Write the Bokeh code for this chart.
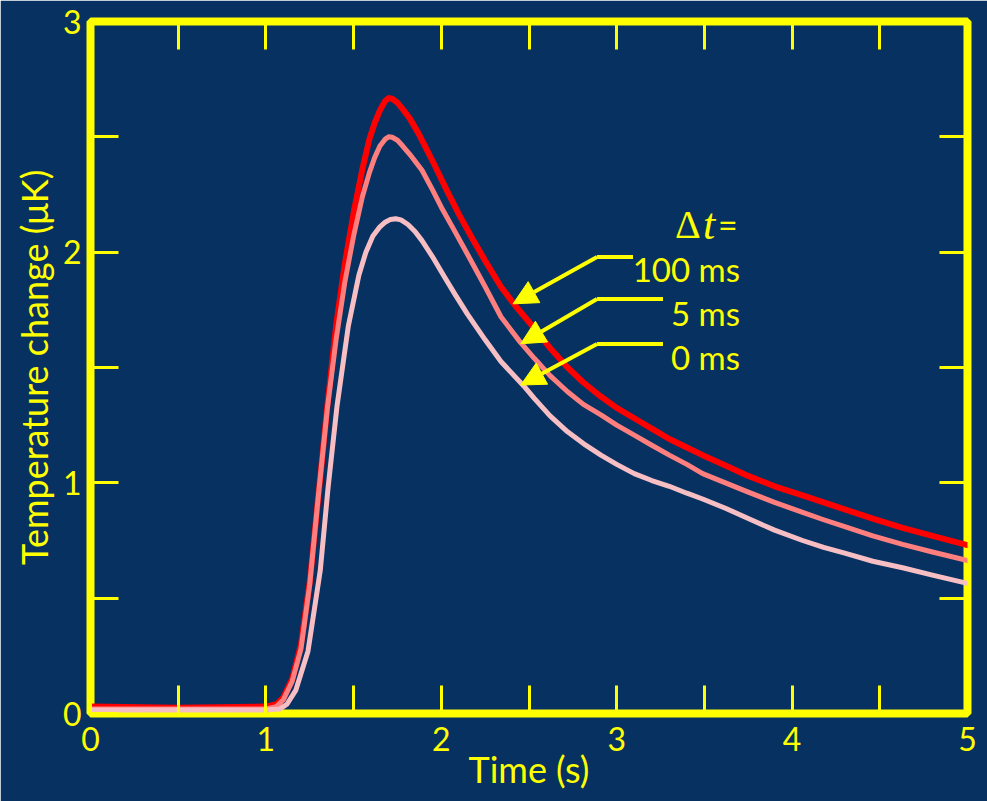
from bokeh.plotting import figure
from bokeh.models import FixedTicker, LinearAxis, Arrow, NormalHead
from bokeh.core.properties import value
from bokeh.embed import file_html
from bokeh.resources import INLINE

BG = "#063160"
YEL = "#ffff00"
FONT = "Lato"

# ---- axes ----
x_ticks = [0, 1, 2, 3, 4, 5]
x_minor = [0.5, 1.5, 2.5, 3.5, 4.5]
y_ticks = [0, 1, 2, 3]
y_minor = [0.5, 1.5, 2.5]
x_all_ticks = [0, 0.5, 1, 1.5, 2, 2.5, 3, 3.5, 4, 4.5, 5]
y_all_ticks = [0, 0.5, 1, 1.5, 2, 2.5, 3]
x_title = "Time (s)"
y_title = "Temperature change (\u03bcK)"

# ---- series ----
t_100 = [0, 0.5, 1.0, 1.06, 1.1, 1.15, 1.2, 1.25, 1.3, 1.35, 1.4, 1.45, 1.5, 1.55, 1.59, 1.62,
         1.65, 1.68, 1.70, 1.72, 1.75, 1.78, 1.82, 1.87, 1.92, 1.96, 2.03, 2.1, 2.18, 2.25, 2.34,
         2.42, 2.53, 2.62, 2.72, 2.81, 2.91, 3.0, 3.1, 3.2, 3.3, 3.4, 3.49, 3.62, 3.75, 3.9, 4.06,
         4.18, 4.3, 4.46, 4.63, 4.8, 5.0]
v_100 = [0.03, 0.025, 0.03, 0.04, 0.07, 0.15, 0.30, 0.57, 0.95, 1.33, 1.68, 1.95, 2.17, 2.36, 2.49, 2.56,
         2.615, 2.655, 2.668, 2.665, 2.648, 2.62, 2.58, 2.515, 2.44, 2.38, 2.27, 2.165, 2.055, 1.963, 1.85,
         1.77, 1.67, 1.585, 1.50, 1.435, 1.374, 1.325, 1.28, 1.235, 1.19, 1.153, 1.12, 1.075, 1.03, 0.985, 0.946,
         0.915, 0.885, 0.845, 0.805, 0.77, 0.73]

t_5 = [0, 0.5, 1.0, 1.06, 1.1, 1.15, 1.2, 1.25, 1.3, 1.35, 1.4, 1.45, 1.5, 1.55, 1.59, 1.62,
       1.65, 1.68, 1.70, 1.72, 1.75, 1.78, 1.83, 1.89, 1.95, 2.0, 2.07, 2.15, 2.25, 2.34, 2.45,
       2.53, 2.62, 2.72, 2.81, 2.91, 3.0, 3.1, 3.2, 3.3, 3.4, 3.49, 3.62, 3.75, 3.9, 4.06,
       4.18, 4.3, 4.46, 4.63, 4.8, 5.0]
v_5 = [0.02, 0.02, 0.02, 0.03, 0.06, 0.14, 0.28, 0.56, 0.95, 1.32, 1.62, 1.87, 2.07, 2.24, 2.345, 2.41,
       2.46, 2.49, 2.50, 2.498, 2.485, 2.46, 2.415, 2.355, 2.27, 2.195, 2.1, 1.99, 1.85, 1.72, 1.61,
       1.54, 1.465, 1.395, 1.34, 1.295, 1.25, 1.207, 1.163, 1.12, 1.08, 1.04, 1.0, 0.96, 0.915, 0.872,
       0.84, 0.81, 0.77, 0.733, 0.7, 0.663]

t_0 = [0, 0.5, 1.0, 1.08, 1.12, 1.17, 1.24, 1.31, 1.354, 1.405, 1.47, 1.53, 1.57, 1.61, 1.65,
       1.68, 1.71, 1.74, 1.77, 1.81, 1.85, 1.89, 1.95, 2.02, 2.08, 2.15, 2.25, 2.34, 2.47, 2.53,
       2.62, 2.72, 2.81, 2.91, 3.0, 3.1, 3.2, 3.3, 3.4, 3.49, 3.62, 3.75, 3.9, 4.06, 4.18, 4.3,
       4.46, 4.63, 4.8, 5.0]
v_0 = [0.015, 0.015, 0.015, 0.02, 0.04, 0.10, 0.27, 0.62, 0.975, 1.33, 1.68, 1.90, 2.0, 2.07, 2.11,
       2.13, 2.142, 2.145, 2.14, 2.12, 2.09, 2.05, 1.98, 1.89, 1.815, 1.73, 1.62, 1.526, 1.42, 1.366,
       1.29, 1.221, 1.17, 1.12, 1.08, 1.04, 1.01, 0.985, 0.955, 0.93, 0.89, 0.845, 0.795, 0.75, 0.72, 0.695,
       0.66, 0.632, 0.6, 0.564]

series_t = [t_100, t_5, t_0]
series_v = [v_100, v_5, v_0]
series_colors = ["#ff0000", "#ff7f7f", "#f7bfc4"]
series_widths = [6, 5, 5]

# ---- annotation ----
labels = ["100 ms", "5 ms", "0 ms"]
label_right_x = 3.703
label_y = [1.925, 1.737, 1.545]
line_end_x = [3.093, 3.264, 3.264]
bend_x = [2.888, 2.888, 2.888]
bend_y = [1.979, 1.797, 1.602]
tip_x = [2.409, 2.453, 2.453]
tip_y = [1.776, 1.603, 1.424]
delta_y = 2.122

p = figure(width=987, height=801, x_range=(0, 5), y_range=(0, 3),
           output_backend="svg", toolbar_location=None,
           min_border_left=90, min_border_right=20, min_border_top=21, min_border_bottom=88)
p.background_fill_color = BG
p.border_fill_color = BG
p.outline_line_color = YEL
p.outline_line_width = 8
p.grid.visible = False


def style_axis(ax):
    ax.axis_line_color = None
    ax.major_tick_line_color = YEL
    ax.minor_tick_line_color = YEL
    ax.major_tick_line_width = 3
    ax.minor_tick_line_width = 3
    ax.major_tick_in = 28
    ax.major_tick_out = 0
    ax.minor_tick_in = 28
    ax.minor_tick_out = 0
    ax.major_label_text_color = YEL
    ax.major_label_text_font = FONT
    ax.major_label_text_font_size = "32px"
    ax.axis_label_text_color = YEL
    ax.axis_label_text_font = FONT
    ax.axis_label_text_font_size = "36px"
    ax.axis_label_text_font_style = "normal"


p.xaxis.ticker = FixedTicker(ticks=x_ticks, minor_ticks=x_minor)
p.yaxis.ticker = FixedTicker(ticks=y_ticks, minor_ticks=y_minor)
style_axis(p.xaxis[0])
style_axis(p.yaxis[0])
p.xaxis.axis_label = x_title
p.yaxis.axis_label = y_title
p.xaxis.major_label_standoff = 13
p.yaxis.major_label_standoff = 9
p.xaxis.axis_label_standoff = -7
p.yaxis.axis_label_standoff = 4
p.yaxis.major_label_orientation = "horizontal"

# top and right: ticks only (all as minor ticks, so no labels)
top = LinearAxis(ticker=FixedTicker(ticks=[], minor_ticks=x_all_ticks))
style_axis(top)
p.add_layout(top, "above")
right = LinearAxis(ticker=FixedTicker(ticks=[], minor_ticks=y_all_ticks))
style_axis(right)
p.add_layout(right, "right")

for tt, vv, c, w in zip(series_t, series_v, series_colors, series_widths):
    p.line(tt, vv, line_color=c, line_width=w, line_join="round", line_cap="round")

# annotation arrows
for i in range(3):
    p.line([line_end_x[i], bend_x[i]], [bend_y[i], bend_y[i]], line_color=YEL, line_width=4)
    p.add_layout(Arrow(x_start=bend_x[i], y_start=bend_y[i], x_end=tip_x[i], y_end=tip_y[i],
                       line_color=YEL, line_width=4,
                       end=NormalHead(size=24, fill_color=YEL, line_color=YEL, line_width=1)))

p.text(x=[label_right_x] * 3, y=label_y, text=labels, text_align="right",
       text_baseline="alphabetic", text_color=YEL, text_font=value(FONT),
       text_font_size="33px")

p.text(x=[label_right_x], y=[delta_y], text=["\u0394"], x_offset=-65, text_align="left",
       text_baseline="alphabetic", text_color=YEL, text_font=value("Liberation Serif"),
       text_font_size="40px")
p.text(x=[label_right_x], y=[delta_y], text=["t"], x_offset=-37, text_align="left",
       text_baseline="alphabetic", text_color=YEL, text_font=value("Liberation Serif"),
       text_font_style="italic", text_font_size="44px")
p.text(x=[label_right_x], y=[delta_y], text=["="], x_offset=-22, text_align="left",
       text_baseline="alphabetic", text_color=YEL, text_font=value(FONT),
       text_font_size="34px")

open("out.html", "w").write(file_html(p, INLINE))
